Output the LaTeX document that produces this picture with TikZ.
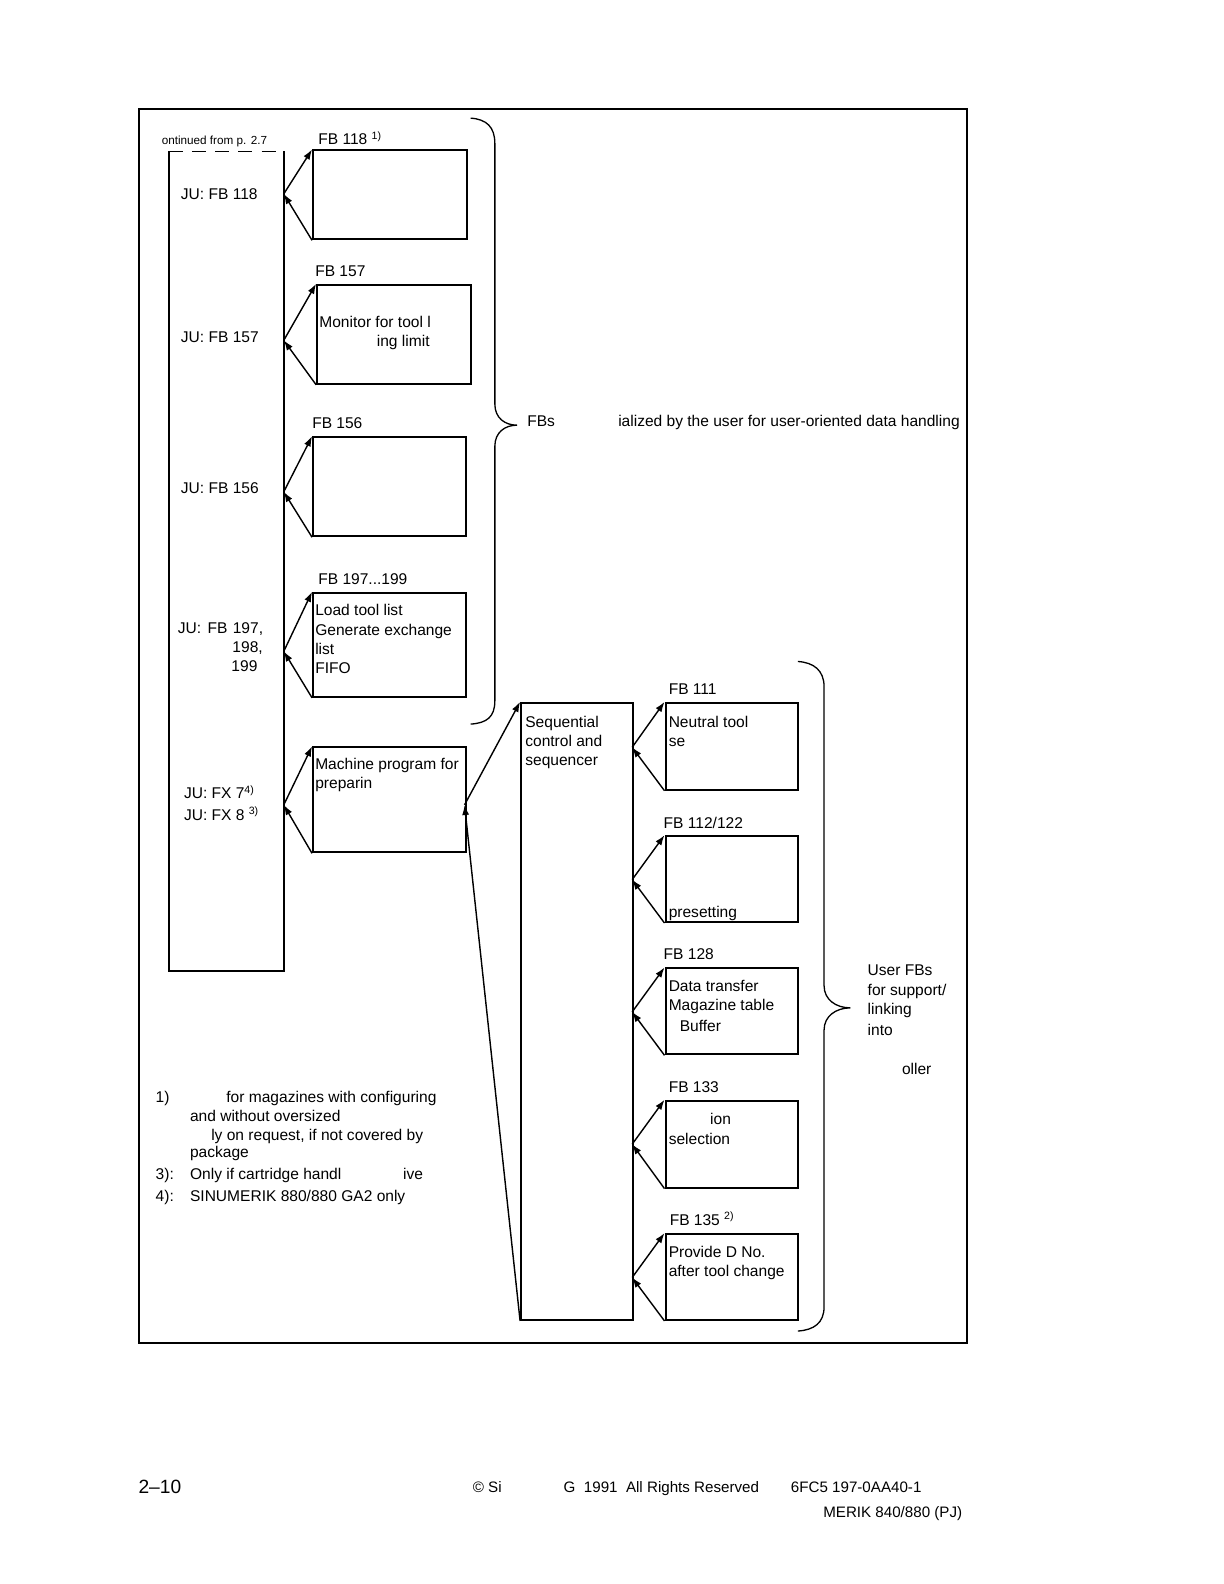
\documentclass[tikz,border=0pt]{standalone}
\usepackage{fontspec}
\setmainfont{Liberation Sans}
\usetikzlibrary{arrows.meta}
\newcommand\mainsz{\fontsize{15.4pt}{19.3pt}\selectfont}
\newcommand\smallsz{\fontsize{11.6pt}{13pt}\selectfont}
\newcommand\sups[1]{\raisebox{5pt}{\fontsize{10.5pt}{11pt}\selectfont #1}}
\newcommand\tl[4]{\node[txt] (#1) at (#2,#3) {#4};}
\newcommand\bx[5]{\node[box,minimum width=#4pt,minimum height=#5pt] (#1) at (#2,#3) {};}
\begin{document}
\begin{tikzpicture}[x=1pt,y=-1pt,
  txt/.style={anchor=base west,inner sep=0pt,font=\mainsz},
  box/.style={draw,line width=2pt,inner sep=0pt,anchor=north west},
  arr/.style={line width=1.4pt,-{Latex[length=10pt,width=7pt]}},
  brace/.style={line width=1.3pt}]
\useasboundingbox (0,0) rectangle (1212,1568.5);
% frame
\bx{frame}{137}{107}{820}{1222}
% left column
\node[inner sep=0pt,minimum width=114pt,minimum height=811pt,anchor=north west] (jucol) at (167,150) {};
\draw[line width=2pt] (jucol.north west) -- (jucol.south west) -- (jucol.south east) -- (jucol.north east);
\draw[line width=1.6pt,dash pattern=on 14pt off 9pt] (jucol.north west) -- (jucol.north east);
% boxes
\bx{fb118}{309}{148}{152}{88}
\bx{fb157}{313}{281}{152}{98}
\bx{fb156}{309}{432}{151}{98}
\bx{fb197}{309}{586}{151}{103}
\bx{mach}{309}{739}{151}{104}
\bx{seq}{515}{695}{111}{611}
\bx{fb111}{658}{695}{131}{86}
\bx{fb112}{658}{827}{131}{85}
\bx{fb128}{658}{958}{131}{85}
\bx{fb133}{658}{1089}{131}{86}
\bx{fb135}{658}{1221}{131}{85}
% meeting points
\coordinate (m118) at (281,192);
\coordinate (m157) at (281,337);
\coordinate (m156) at (281,487);
\coordinate (m197) at (281,645);
\coordinate (mmach) at (281,797);
\coordinate (mseq) at (460,797);
\coordinate (m111) at (626,740);
\coordinate (m112) at (626,871);
\coordinate (m128) at (626,1002);
\coordinate (m133) at (626,1133);
\coordinate (m135) at (626,1265);
% arrows
\foreach \m/\b in {m118/fb118,m157/fb157,m156/fb156,m197/fb197,mmach/mach,m111/fb111,m112/fb112,m128/fb128,m133/fb133,m135/fb135}{
  \draw[arr] (\m) -- (\b.north west);
  \draw[arr] (\b.south west) -- (\m);
}
\draw[arr] (mseq) -- (seq.north west);
\draw[arr] (seq.south west) -- (mseq);
% braces
\draw[brace] (466,117) .. controls (482,118) and (490,126) .. (490,142) -- (490,400)
  .. controls (490,414) and (500,421) .. (512,421)
  .. controls (500,421) and (490,428) .. (490,442) -- (490,694)
  .. controls (490,710) and (482,716) .. (466,717);
\draw[brace] (790,655) .. controls (806,656) and (816,664) .. (816,680) -- (816,976)
  .. controls (816,990) and (828,998) .. (842,998)
  .. controls (828,998) and (816,1006) .. (816,1020) -- (816,1294)
  .. controls (816,1310) and (806,1317) .. (790,1318);
% texts
\node[txt,font=\smallsz] (cont) at (160,143) {ontinued from p. 2.7};
\tl{l118}{315}{143}{FB 118 \sups{1)}}
\tl{ju118}{179}{198}{JU: FB 118}
\tl{l157}{312}{274}{FB 157}
\tl{t157a}{316}{324}{Monitor for tool l}
\tl{t157b}{373}{343}{ing limit}
\tl{ju157}{179}{339}{JU: FB 157}
\tl{l156}{309}{424}{FB 156}
\tl{ju156}{179}{489}{JU: FB 156}
\tl{l197}{315}{579}{FB 197...199}
\tl{t197a}{312}{609}{Load tool list}
\tl{t197b}{312}{629}{Generate exchange}
\tl{t197c}{312}{648}{list}
\tl{t197d}{312}{667}{FIFO}
\tl{ju197a}{176}{627}{JU:\kern2pt\ FB\kern1pt\ 197,}
\tl{ju197b}{230}{646}{198,}
\tl{ju197c}{229}{665}{199}
\tl{macha}{312}{762}{Machine program for}
\tl{machb}{312}{781}{preparin}
\tl{jufx7}{182}{791}{JU: FX 7\sups{4)}}
\tl{jufx8}{182}{812}{JU: FX 8 \sups{3)}}
\tl{fbs}{522}{422}{FBs}
\tl{ial}{612}{422}{ialized by the user for user-oriented data handling}
\tl{seqa}{520}{720}{Sequential}
\tl{seqb}{520}{739}{control and}
\tl{seqc}{520}{758}{sequencer}
\tl{l111}{662}{688}{FB 111}
\tl{t111a}{662}{720}{Neutral tool}
\tl{t111b}{662}{739}{se}
\tl{l112}{657}{820}{FB 112/122}
\tl{t112}{662}{909}{presetting}
\tl{l128}{657}{950}{FB 128}
\tl{t128a}{662}{982}{Data transfer}
\tl{t128b}{662}{1001}{Magazine table}
\tl{t128c}{673}{1021}{Buffer}
\tl{l133}{662}{1082}{FB 133}
\tl{t133a}{703}{1113}{ion}
\tl{t133b}{662}{1133}{selection}
\tl{l135}{663}{1213}{FB 135 \sups{2)}}
\tl{t135a}{662}{1245}{Provide D No.}
\tl{t135b}{662}{1264}{after tool change}
\tl{ua}{859}{966}{User FBs}
\tl{ub}{859}{986}{for support/}
\tl{uc}{859}{1005}{linking}
\tl{ud}{859}{1025}{into}
\tl{ue}{893}{1064}{oller}
% footnotes
\tl{fn1}{154}{1092}{1)}
\tl{fn1a}{224}{1092}{for magazines with configuring}
\tl{fn1b}{188}{1111}{and without oversized}
\tl{fn1c}{209}{1129}{ly on request, if not covered by}
\tl{fn1d}{188}{1146}{package}
\tl{fn3}{154}{1168}{3):}
\tl{fn3a}{188}{1168}{Only if cartridge handl}
\tl{fn3b}{399}{1168}{ive}
\tl{fn4}{154}{1190}{4):}
\tl{fn4a}{188}{1190}{SINUMERIK 880/880 GA2 only}
% footer
\node[txt,font=\fontsize{19pt}{22pt}\selectfont] (pg) at (137,1479) {2–10};
\node[txt,font=\fontsize{15pt}{18pt}\selectfont] (fa) at (468,1478) {© Si};
\node[txt,font=\fontsize{15pt}{18pt}\selectfont] (fb) at (558,1478) {G\ \ 1991\ \ All Rights Reserved};
\node[txt,font=\fontsize{15pt}{18pt}\selectfont] (fc) at (783,1478) {6FC5 197-0AA40-1};
\node[txt,anchor=base east,font=\fontsize{15pt}{18pt}\selectfont] (fd) at (953,1503) {MERIK 840/880 (PJ)};
\end{tikzpicture}
\end{document}
